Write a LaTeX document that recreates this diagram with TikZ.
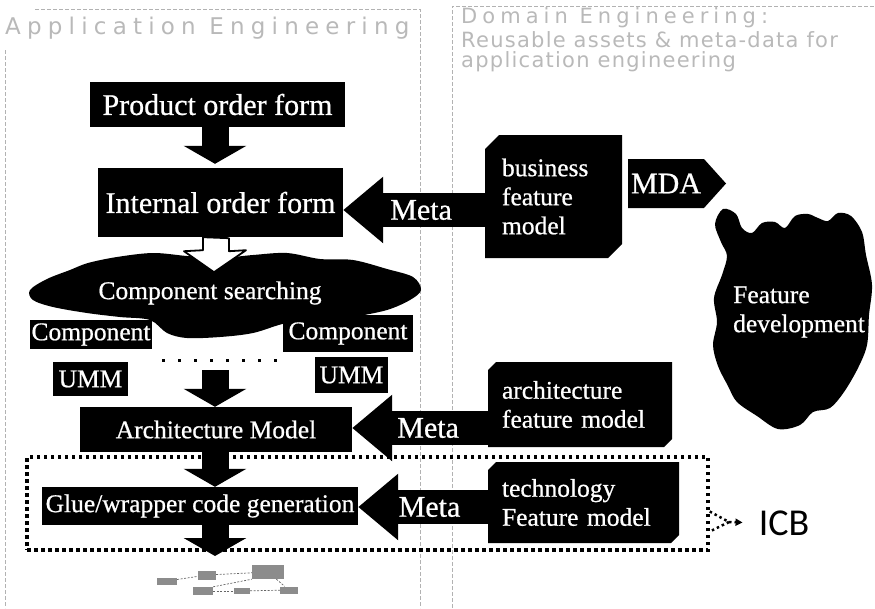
\documentclass[tikz,border=0pt]{standalone}
\usepackage{fontspec}
\setmainfont{Liberation Serif}
\newfontfamily\boxfont{Liberation Serif}[FakeBold=0.7]
\newfontfamily\headfont{DejaVu Sans}[LetterSpace=27]
\newfontfamily\domheadfont{DejaVu Sans}[LetterSpace=24]
\newfontfamily\subheadfont{DejaVu Sans}[LetterSpace=6]
\newfontfamily\calloutfont{Carlito}
\usetikzlibrary{arrows.meta,shapes.misc,shapes.symbols,calc}

\begin{document}
\begin{tikzpicture}[x=1pt,y=-1pt,
  blk/.style={fill=black, text=white, inner sep=0pt, font=\boxfont\fontsize{25.5}{29}\selectfont},
  bigtext/.style={font=\boxfont\fontsize{30}{34}\selectfont},
  chbox/.style={blk, chamfered rectangle, chamfered rectangle corners={north west,south east},
    chamfered rectangle xsep=7pt, chamfered rectangle ysep=7pt, align=left, inner xsep=10pt},
  metaarr/.style={draw=black, line width=34pt, -{Triangle[width=64pt,length=40pt]}},
  downarr/.style={draw=black, line width=27pt, -{Triangle[width=62pt,length=18pt]}},
  hollow/.style={draw=black, fill=white, line width=1.8pt, line join=round},
  icbdots/.style={draw=black, line width=3.5pt, dash pattern=on 3.5pt off 3.5pt},
  pooldots/.style={draw=black, line width=3pt, dash pattern=on 3pt off 13pt},
  panel/.style={draw=gray!60, line width=0.8pt, dash pattern=on 4pt off 2pt},
  headtext/.style={text=gray!55, inner sep=0pt, anchor=west},
  scrib/.style={fill=black!45, inner sep=0pt},
  link/.style={draw=black!60, line width=0.7pt, dash pattern=on 2pt off 1.5pt}]
\useasboundingbox (0,0) rectangle (875,608);

% panel frames
\draw[panel] (5,50) -- (5,608);
\draw[panel] (35,9) -- (420,9) -- (420,608);
\draw[panel] (452,608) -- (452,6) -- (875,6);

% panel headings
\node[headtext, font=\headfont\fontsize{23}{26}\selectfont] (apptitle) at (5,28) {Application Engineering};
\node[headtext, font=\domheadfont\fontsize{21}{24}\selectfont] (domtitle1) at (461,18) {Domain Engineering:};
\node[headtext, font=\subheadfont\fontsize{21}{24}\selectfont] (domtitle2) at (461,40) {Reusable assets \& meta-data for};
\node[headtext, font=\subheadfont\fontsize{21}{24}\selectfont] (domtitle3) at (461,62) {application engineering};

% clouds
\fill[black] plot[smooth cycle, tension=0.55] coordinates {
  (30,290) (47,279) (70,270) (88,263) (117,257) (153,253) (187,256) (220,258)
  (253,255) (287,253) (320,259) (353,260) (387,269) (413,277) (421,290) (410,300)
  (387,310) (353,317) (320,322) (287,323) (253,333) (220,337) (187,338) (167,333)
  (150,320) (120,317) (87,313) (53,307) (33,300)};
\node[blk, fill=none] (search) at (210,293) {Component searching};

\fill[black] plot[smooth cycle, tension=0.55] coordinates {
  (723,209) (736,214) (742,228) (752,233) (762,223) (775,222) (785,228) (795,216)
  (808,214) (818,218) (828,221) (838,213) (851,216) (862,232) (866,255) (872,285)
  (869,315) (867,345) (858,368) (844,392) (830,408) (813,412) (800,425) (778,429)
  (757,416) (737,402) (728,386) (718,366) (713,345) (717,322) (714,298) (722,275)
  (727,256) (721,242) (715,224)};
\node[blk, fill=none, anchor=west, align=left] (featdev) at (733,312) {Feature\\development};

% application engineering boxes
\node[blk, bigtext, minimum width=255pt, minimum height=45pt] (prod) at (217.5,104.5) {Product order form};
\node[blk, bigtext, minimum width=245pt, minimum height=69pt] (int) at (220.5,202.5) {Internal order form};
\node[blk, minimum width=122pt, minimum height=29pt] (comp1) at (91,334.5) {Component};
\node[blk, minimum width=75pt, minimum height=34pt] (umm1) at (90.5,379) {UMM};
\node[blk, minimum width=130pt, minimum height=37pt] (comp2) at (348,333.5) {Component};
\node[blk, minimum width=73pt, minimum height=36pt] (umm2) at (351.5,375) {UMM};
\node[blk, minimum width=272pt, minimum height=45pt] (arch) at (216,429.5) {Architecture Model};
\node[blk, minimum width=316pt, minimum height=38pt] (glue) at (200,506) {Glue/wrapper code generation};

% domain engineering boxes
\node[chbox, text width=103pt, minimum height=123pt] (bfm) at (553.5,196.5) {business\\feature\\model};
\node[blk, bigtext, signal, signal to=east, signal pointer angle=96, minimum width=98pt, minimum height=49pt] (mda) at (666,183.5) {MDA};
\node[chbox, chamfered rectangle xsep=4pt, chamfered rectangle ysep=4pt, text width=156pt, minimum height=85pt] (afm) at (580,404.5) {architecture\\feature model};
\node[chbox, chamfered rectangle xsep=4pt, chamfered rectangle ysep=4pt, text width=163pt, minimum height=81pt] (tfm) at (583.5,502.5) {technology\\Feature model};

% integration box and its label
\node[icbdots, minimum width=681pt, minimum height=93pt, inner sep=0pt] (icbbox) at (367.5,503.5) {};
\node[inner sep=0pt, font=\calloutfont\fontsize{38}{40}\selectfont] (icb) at (784,523) {ICB};
\coordinate (cp) at (729,522);
\draw[icbdots, line width=2.5pt, dash pattern=on 2.5pt off 3pt] ($(icbbox.east)+(0,8)$) -- (cp) -- ($(icbbox.east)+(0,28)$);
\draw[icbdots, line width=2.5pt, dash pattern=on 2.5pt off 3pt, -{Triangle[width=7pt,length=7pt]}, shorten >=16pt] (cp) -- (icb.west);

% flow arrows down the left column
\coordinate (ax) at (215,0);
\coordinate (pool) at (215,370);
\coordinate (outtop) at (215,556);
\draw[downarr] (prod.south -| ax) -- ($(int.north -| ax)+(0,-4)$);
\path (int.south -| ax) coordinate (h0);
\draw[hollow] (h0) ++(-12,0) -- ++(0,13) -- ++(-19,1) -- ++(30,21) -- ++(32,-22) -- ++(-17,1) -- ++(0,-13) -- cycle;
\draw[pooldots] (comp1.east |- pool) ++(10,-10) -- ($(comp2.west |- pool)+(-3,-10)$);
\draw[downarr] (pool) -- (arch.north -| ax);
\draw[downarr] (arch.south -| ax) -- (glue.north -| ax);
\draw[downarr] (glue.south -| ax) -- (outtop);

% meta-data arrows from the domain side
\coordinate (m1) at (0,210);
\coordinate (m2) at (0,428);
\coordinate (m3) at (0,507);
\draw[metaarr] (bfm.west |- m1) -- node[pos=0.45, text=white, bigtext] {Meta} (int.east |- m1);
\draw[metaarr] (afm.west |- m2) -- node[pos=0.44, text=white, bigtext] {Meta} (arch.east |- m2);
\draw[metaarr] (tfm.west |- m3) -- node[pos=0.45, text=white, bigtext] {Meta} (glue.east |- m3);

% generated code sketch
\node[scrib, minimum width=20pt, minimum height=7pt] (d1) at (167,581) {};
\node[scrib, minimum width=18pt, minimum height=9pt] (d2) at (207,575) {};
\node[scrib, minimum width=32pt, minimum height=14pt] (d3) at (268,572) {};
\node[scrib, minimum width=18pt, minimum height=7pt] (d4) at (289,590) {};
\node[scrib, minimum width=20pt, minimum height=8pt] (d5) at (203,591) {};
\node[scrib, minimum width=16pt, minimum height=6pt] (d6) at (242,591) {};
\draw[link] (d1) -- (d2);
\draw[link] (d2) -- (d3);
\draw[link] (d3) -- (d4);
\draw[link] (d5) -- (d6);
\draw[link] (d6) -- (d4);
\draw[link] (d5.north east) -- (d3.south west);
\end{tikzpicture}
\end{document}
